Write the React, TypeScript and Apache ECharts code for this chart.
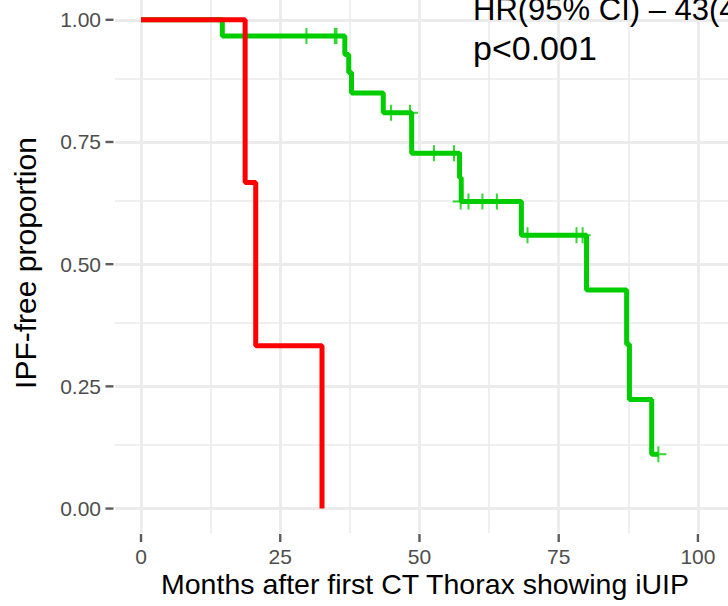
import React, { useEffect, useRef } from "react";
import * as echarts from "echarts";

// Kaplan-Meier step data (months, IPF-free proportion)
const redTimes = [0, 18.7, 20.6, 32.5];
const redSurv = [1, 0.667, 0.333, 0];

const greenTimes = [0, 14.6, 36.6, 37.3, 37.8, 43.5, 48.6, 57.2, 57.5, 68.3, 80.0, 87.2, 87.7, 91.7, 92.9];
const greenSurv = [1, 0.967, 0.929, 0.892, 0.85, 0.81, 0.727, 0.677, 0.628, 0.559, 0.447, 0.336, 0.223, 0.111, 0.111];

const censorTimes = [29.7, 34.8, 35.1, 44.9, 48.3, 52.6, 56.2, 57.4, 58.8, 61.3, 63.9, 69.4, 78.2, 79.3, 92.9];
const censorSurv = [0.967, 0.967, 0.967, 0.81, 0.81, 0.727, 0.727, 0.628, 0.628, 0.628, 0.628, 0.559, 0.559, 0.559, 0.111];

const xTicks = [0, 25, 50, 75, 100];
const xMinor = [12.5, 37.5, 62.5, 87.5];
const yTicks = [0, 0.25, 0.5, 0.75, 1];
const yMinor = [0.125, 0.375, 0.625, 0.875];

const xTitle = "Months after first CT Thorax showing iUIP";
const yTitle = "IPF-free proportion";
const hrText = "HR(95% CI) – 43(4";
const pText = "p<0.001";

const FONT = "'Liberation Sans', Arial, Helvetica, sans-serif";

const X_MIN = -4.67;
const X_MAX = 105.4;
const Y_MIN = -0.05;
const Y_MAX = 1.0405;

export default function App() {
  const ref = useRef<HTMLDivElement>(null);
  useEffect(() => {
    document.body.style.margin = "0";
    if (!ref.current) return;
    const chart = echarts.init(ref.current, undefined, { renderer: "svg" });
    const grid = "#EBEBEB";
    const markLineData = [
      ...xMinor.map((v) => ({ xAxis: v, lineStyle: { color: grid, width: 1.6, type: "solid" } })),
      ...yMinor.map((v) => ({ yAxis: v, lineStyle: { color: grid, width: 1.6, type: "solid" } })),
      ...xTicks.map((v) => ({ xAxis: v, lineStyle: { color: grid, width: 2.8, type: "solid" } })),
      ...yTicks.map((v) => ({ yAxis: v, lineStyle: { color: grid, width: 2.8, type: "solid" } })),
    ];
    const plus = "path://M7,0h2v16h-2z M0,7h16v2h-16z";
    chart.setOption({
      animation: false,
      backgroundColor: "#ffffff",
      textStyle: { fontFamily: FONT },
      grid: { left: 115, right: 0, top: 0, bottom: 73, containLabel: false },
      xAxis: {
        type: "value",
        min: X_MIN,
        max: X_MAX,
        axisLine: { show: false },
        splitLine: { show: false },
        axisTick: { show: false },
        axisLabel: {
          customValues: xTicks,
          margin: 13,
          color: "#4D4D4D",
          fontSize: 21,
          fontFamily: FONT,
          formatter: (v: number) => String(v),
        },
      },
      yAxis: {
        type: "value",
        min: Y_MIN,
        max: Y_MAX,
        axisLine: { show: false },
        splitLine: { show: false },
        axisTick: { show: false },
        axisLabel: {
          customValues: yTicks,
          margin: 14,
          color: "#4D4D4D",
          fontSize: 21,
          fontFamily: FONT,
          formatter: (v: number) => v.toFixed(2),
        },
      },
      series: [
        {
          type: "line",
          data: [],
          z: 0,
          silent: true,
          markLine: {
            silent: true,
            z: 0,
            zlevel: 0,
            symbol: ["none", "none"],
            label: { show: false },
            lineStyle: { type: "solid" },
            data: markLineData,
          },
        },
        // axis tick marks (x)
        {
          type: "scatter",
          silent: true,
          clip: false,
          symbol: "rect",
          symbolSize: [2.4, 8],
          symbolOffset: [0, 5],
          itemStyle: { color: "#333333" },
          data: xTicks.map((v) => [v, Y_MIN]),
          z: 2,
        },
        // axis tick marks (y)
        {
          type: "scatter",
          silent: true,
          clip: false,
          symbol: "rect",
          symbolSize: [8, 2.4],
          symbolOffset: [-5.5, 0],
          itemStyle: { color: "#333333" },
          data: yTicks.map((v) => [X_MIN, v]),
          z: 2,
        },
        {
          type: "line",
          step: "end",
          showSymbol: false,
          data: greenTimes.map((t, i) => [t, greenSurv[i]]),
          lineStyle: { color: "#00CD00", width: 5 },
          itemStyle: { color: "#00CD00" },
          z: 6,
        },
        {
          type: "scatter",
          symbol: plus,
          symbolSize: 16,
          data: censorTimes.map((t, i) => [t, censorSurv[i]]),
          itemStyle: { color: "#00CD00" },
          z: 7,
        },
        {
          type: "line",
          step: "end",
          showSymbol: false,
          data: redTimes.map((t, i) => [t, redSurv[i]]),
          lineStyle: { color: "#FF0000", width: 5 },
          itemStyle: { color: "#FF0000" },
          z: 8,
        },
      ],
      graphic: [
        {
          type: "text",
          x: 425,
          y: 584,
          style: { text: xTitle, fontSize: 28.5, fontFamily: FONT, fill: "#000000", textAlign: "center", textVerticalAlign: "middle" },
        },
        {
          type: "text",
          x: 25,
          y: 263,
          rotation: Math.PI / 2,
          style: { text: yTitle, fontSize: 30, fontFamily: FONT, fill: "#000000", textAlign: "center", textVerticalAlign: "middle" },
        },
        {
          type: "text",
          x: 473,
          y: 9,
          style: { text: hrText, fontSize: 31, fontFamily: FONT, fill: "#000000", textAlign: "left", textVerticalAlign: "middle" },
          z: 10,
        },
        {
          type: "text",
          x: 473,
          y: 48,
          style: { text: pText, fontSize: 34, fontFamily: FONT, fill: "#000000", textAlign: "left", textVerticalAlign: "middle" },
          z: 10,
        },
      ],
    });
    return () => chart.dispose();
  }, []);
  return <div ref={ref} style={{ width: 728, height: 606 }} />;
}
